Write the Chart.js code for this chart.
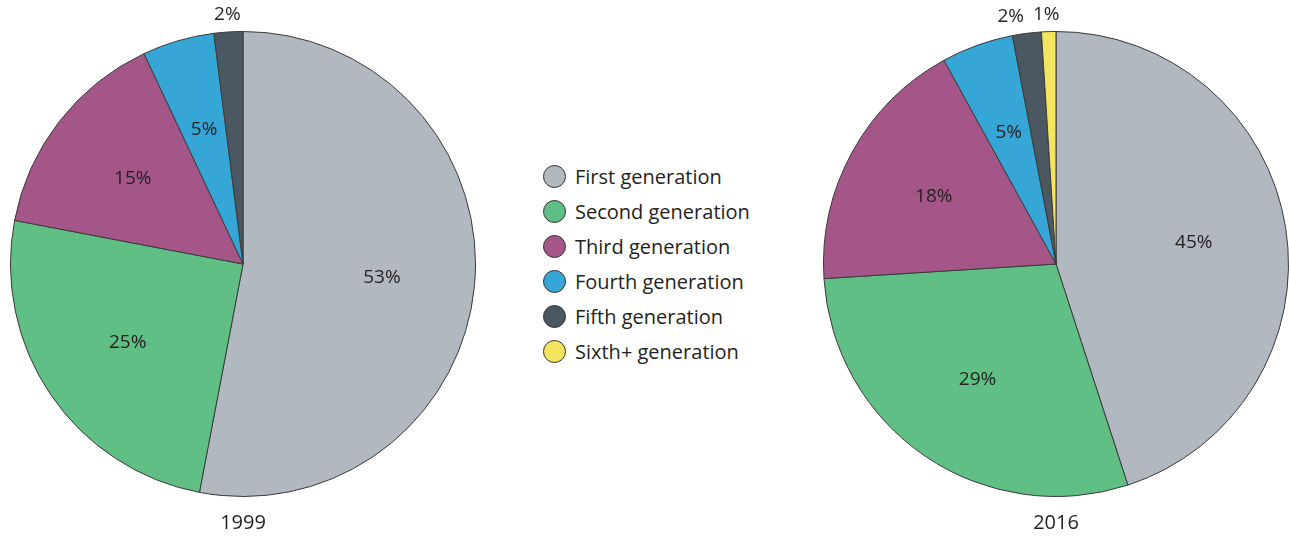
<!DOCTYPE html>
<html>
<head>
<meta charset="utf-8">
<script src="https://cdn.jsdelivr.net/npm/chart.js@4"></script>
<style>
  body { margin: 0; background: #fff; font-family: "Open Sans", sans-serif; color: #231f20; }
  #wrap { position: relative; width: 1289px; height: 537px; overflow: hidden; }
  .pie { position: absolute; top: 0; height: 537px; }
  #pie1999 { left: 0; width: 490px; }
  #pie2016 { left: 812px; width: 477px; }
  .year { position: absolute; top: 508px; font-size: 20px; transform: translateX(-50%); }
  #legend { position: absolute; left: 543px; top: 163px; list-style: none; margin: 0; padding: 0; font-size: 20px; }
  #legend li { height: 35px; line-height: 28px; display: flex; align-items: flex-start; }
  #legend span.dot { width: 23px; height: 23px; border-radius: 50%; border: 1px solid #333; box-sizing: border-box; margin: 2px 9px 0 0; }
</style>
</head>
<body>
<div id="wrap">
  <canvas id="pie1999" class="pie" width="490" height="537"></canvas>
  <canvas id="pie2016" class="pie" width="477" height="537"></canvas>
  <div class="year" style="left:243px">1999</div>
  <div class="year" style="left:1056px">2016</div>
  <ul id="legend"></ul>
</div>
<script>
const generations = ["First generation", "Second generation", "Third generation",
  "Fourth generation", "Fifth generation", "Sixth+ generation"];
const colors = ["#b1b8bf", "#5fbf85", "#a55688", "#36a6d6", "#4b5861", "#f4e55e"];
const shares1999 = [53, 25, 15, 5, 2];
const shares2016 = [45, 29, 18, 5, 2, 1];

// legend
const legend = document.getElementById("legend");
generations.forEach((g, i) => {
  const li = document.createElement("li");
  const dot = document.createElement("span");
  dot.className = "dot";
  dot.style.background = colors[i];
  li.appendChild(dot);
  li.appendChild(document.createTextNode(g));
  legend.appendChild(li);
});

// percentage labels: inside for big slices, just outside the rim for tiny ones
const pctLabels = {
  id: "pctLabels",
  afterDatasetsDraw(chart, args, opts) {
    const ctx = chart.ctx;
    const meta = chart.getDatasetMeta(0);
    const values = chart.data.datasets[0].data;
    ctx.save();
    ctx.font = "19px 'Open Sans', sans-serif";
    ctx.fillStyle = "#231f20";
    ctx.textAlign = "center";
    ctx.textBaseline = "middle";
    meta.data.forEach((arc, i) => {
      const { x, y, startAngle, endAngle, outerRadius } = arc.getProps(["x", "y", "startAngle", "endAngle", "outerRadius"], true);
      const mid = (startAngle + endAngle) / 2;
      const outside = values[i] < 3;
      const r = outside ? outerRadius + 17 : outerRadius * 0.6;
      const nudge = (opts.nudge && opts.nudge[i]) || 0;
      ctx.fillText(values[i] + "%", x + Math.cos(mid) * r + nudge, y + Math.sin(mid) * r);
    });
    ctx.restore();
  }
};

function makePie(id, values, padding, nudge) {
  return new Chart(document.getElementById(id), {
    type: "pie",
    data: {
      labels: generations.slice(0, values.length),
      datasets: [{
        data: values,
        backgroundColor: colors.slice(0, values.length),
        borderColor: "#3a3a3a",
        borderWidth: 1
      }]
    },
    options: {
      responsive: false,
      animation: false,
      layout: { padding: padding },
      plugins: {
        legend: { display: false },
        tooltip: { enabled: false },
        pctLabels: { nudge: nudge }
      }
    },
    plugins: [pctLabels]
  });
}

makePie("pie1999", shares1999, { top: 31, bottom: 40, left: 10, right: 14 }, []);
makePie("pie2016", shares2016, { top: 31, bottom: 40, left: 11, right: 0 }, [0, 0, 0, 0, -14, -2]);
</script>
</body>
</html>
